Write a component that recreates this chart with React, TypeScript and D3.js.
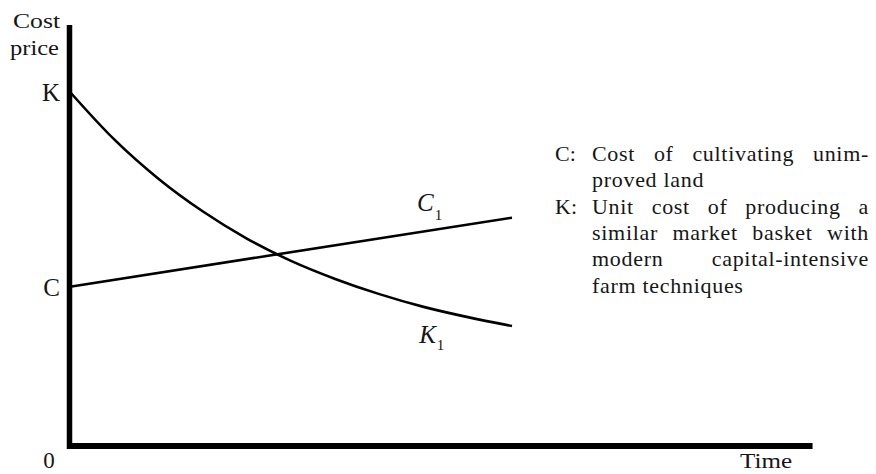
import React, { useLayoutEffect, useRef } from "react";
import * as d3 from "d3";

// ---- data ----
const timePoints = [0, 1, 2, 3, 4, 5, 6, 7, 8, 9, 10];
const kValues = [100, 86.6, 75.5, 66.3, 58.6, 52.3, 47.2, 42.9, 39.3, 36.4, 33.9];
const cTimes = [0, 10];
const cValues = [45, 64.5];
const yTickValues = [100, 45];
const yTickLabels = ["K", "C"];
const axisMaxTime = 16.8;
const axisMaxValue = 118.9;
const legendLines = [
  { key: "C:", text: "Cost of cultivating unim-", justify: true },
  { key: "", text: "proved land", justify: false },
  { key: "K:", text: "Unit cost of producing a", justify: true },
  { key: "", text: "similar market basket with", justify: true },
  { key: "", text: "modern capital-intensive", justify: true },
  { key: "", text: "farm techniques", justify: false },
];

const W = 876;
const H = 474;
const FONT = "'Liberation Serif', 'Times New Roman', serif";
const INK = "#161616";

function JustifiedLine({ x, y, width, text, justify }: { x: number; y: number; width: number; text: string; justify: boolean }) {
  const ref = useRef<SVGTextElement>(null);
  useLayoutEffect(() => {
    const el = ref.current;
    if (!el || !justify) return;
    el.style.wordSpacing = "0px";
    const natural = el.getComputedTextLength();
    const spaces = (text.match(/ /g) || []).length;
    if (spaces > 0) {
      el.style.wordSpacing = `${Math.max(0, (width - natural) / spaces)}px`;
    }
  }, [text, width, justify]);
  return (
    <text ref={ref} x={x} y={y} fontSize={22} fontFamily={FONT} fill={INK} style={{ letterSpacing: "0.7px" }}>
      {text}
    </text>
  );
}

export default function App() {
  const x = d3.scaleLinear().domain([0, 10]).range([70, 512]);
  const y = d3.scaleLinear().domain([0, 100]).range([446, 92]);

  const kLine = d3
    .line<number>()
    .x((_, i) => x(timePoints[i]))
    .y((d) => y(d))
    .curve(d3.curveMonotoneX);
  const cLine = d3
    .line<number>()
    .x((_, i) => x(cTimes[i]))
    .y((d) => y(d));

  const x0 = x(0);
  const y0 = y(0);

  return (
    <svg
      width={W}
      height={H}
      viewBox={`0 0 ${W} ${H}`}
      style={{ position: "absolute", left: 0, top: 0, background: "#fff" }}
    >
      <rect width={W} height={H} fill="#fff" />
      {/* curves */}
      <path d={kLine(kValues) || ""} fill="none" stroke="#000" strokeWidth={2.6} />
      <path d={cLine(cValues) || ""} fill="none" stroke="#000" strokeWidth={2.6} />

      {/* axes */}
      <line x1={x0 - 0.5} x2={x0 - 0.5} y1={y(axisMaxValue)} y2={y0 + 3} stroke="#000" strokeWidth={5.5} />
      <line x1={x0 - 3} x2={x(axisMaxTime)} y1={y0} y2={y0} stroke="#000" strokeWidth={6} />

      {/* axis labels */}
      <text x={60} y={28} textAnchor="end" fontSize={21} fontFamily={FONT} fill={INK} textLength={47} lengthAdjust="spacingAndGlyphs">
        Cost
      </text>
      <text x={59} y={55} textAnchor="end" fontSize={21} fontFamily={FONT} fill={INK} textLength={49} lengthAdjust="spacingAndGlyphs">
        price
      </text>
      {yTickValues.map((v, i) => (
        <text key={i} x={60} y={y(v) + 9} textAnchor="end" fontSize={25} fontFamily={FONT} fill={INK}>
          {yTickLabels[i]}
        </text>
      ))}
      <text x={49} y={468} textAnchor="middle" fontSize={23} fontFamily={FONT} fill={INK}>
        0
      </text>
      <text x={740} y={468} fontSize={22} fontFamily={FONT} fill={INK} textLength={52} lengthAdjust="spacingAndGlyphs">
        Time
      </text>

      {/* curve labels */}
      <text x={x(7.85)} y={211} fontSize={25} fontFamily={FONT} fontStyle="italic" fill={INK}>
        C<tspan fontStyle="normal" fontSize={15} dy={9} dx={1}>1</tspan>
      </text>
      <text x={x(7.9)} y={343} fontSize={25} fontFamily={FONT} fontStyle="italic" fill={INK}>
        K<tspan fontStyle="normal" fontSize={15} dy={7} dx={1}>1</tspan>
      </text>

      {/* legend */}
      {legendLines.map((l, i) => {
        const by = 161 + i * 26.3;
        return (
          <g key={i}>
            {l.key && (
              <text x={555} y={by} fontSize={22} fontFamily={FONT} fill={INK}>
                {l.key}
              </text>
            )}
            <JustifiedLine x={592} y={by} width={277} text={l.text} justify={l.justify} />
          </g>
        );
      })}
    </svg>
  );
}
